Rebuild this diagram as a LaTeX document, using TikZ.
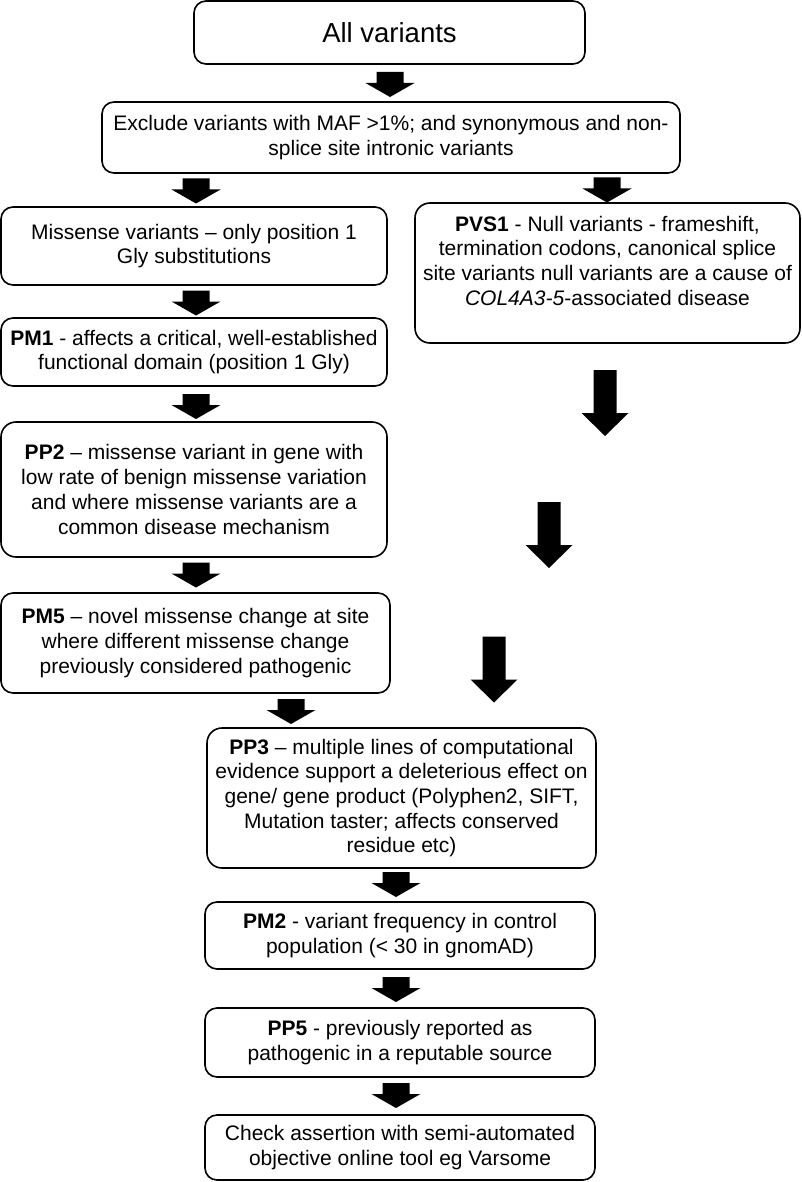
\documentclass[tikz,border=0pt]{standalone}
\usepackage{fontspec}
\setmainfont{Liberation Sans}
\begin{document}
\begin{tikzpicture}[x=1pt,y=-1pt,
  box/.style={draw, line width=1.6pt, rounded corners=12pt, inner sep=0pt, align=center,
    font=\fontsize{21}{24.7}\selectfont},
  sarr/.pic={\fill (-13.5,-12.5) -- (13.5,-12.5) -- (13.5,-1.5) -- (24.5,-1.5) -- (0,12.5) -- (-24.5,-1.5) -- (-13.5,-1.5) -- cycle;},
  barr/.pic={\fill (-11.5,-33) -- (11.5,-33) -- (11.5,10) -- (23.5,10) -- (0,33) -- (-23.5,10) -- (-11.5,10) -- cycle;}
]
\useasboundingbox (0,0) rectangle (801,1182);

\node[box, minimum width=391pt, minimum height=63pt, font=\fontsize{27.5}{32}\selectfont] (all) at (389.5,32.5) {All variants};
\node[box, minimum width=578pt, minimum height=71pt] (excl) at (391,137.5)
  {Exclude variants with MAF >1\%; and synonymous and non-\\splice site intronic variants};
\node[box, minimum width=386pt, minimum height=78pt] (miss) at (194,246)
  {Missense variants – only position 1\\Gly substitutions};
\node[box, minimum width=385pt, minimum height=140pt, rounded corners=15pt] (pvs1) at (607.5,273)
  {\textbf{PVS1} - Null variants - frameshift,\\termination codons, canonical splice\\site variants null variants are a cause of\\\textit{COL4A3-5}-associated disease\\\mbox{}};
\node[box, minimum width=386pt, minimum height=68pt] (pm1) at (194,352)
  {\textbf{PM1} - affects a critical, well-established\\functional domain (position 1 Gly)};
\node[box, minimum width=386pt, minimum height=135pt, rounded corners=15pt] (pp2) at (194,489.5)
  {\textbf{PP2} – missense variant in gene with\\low rate of benign missense variation\\and where missense variants are a\\common disease mechanism};
\node[box, minimum width=389pt, minimum height=100pt] (pm5) at (195.5,643)
  {\textbf{PM5} – novel missense change at site\\where different missense change\\previously considered pathogenic};
\node[box, minimum width=389pt, minimum height=140pt, rounded corners=15pt] (pp3) at (401.5,798)
  {\textbf{PP3} – multiple lines of computational\\evidence support a deleterious effect on\\gene/ gene product (Polyphen2, SIFT,\\Mutation taster; affects conserved\\residue etc)};
\node[box, minimum width=390pt, minimum height=67pt] (pm2) at (400,935.5)
  {\textbf{PM2} - variant frequency in control\\population (< 30 in gnomAD)};
\node[box, minimum width=390pt, minimum height=69pt] (pp5) at (400,1042.5)
  {\textbf{PP5} - previously reported as\\pathogenic in a reputable source};
\node[box, minimum width=390pt, minimum height=65pt] (check) at (400,1147.5)
  {Check assertion with semi-automated\\objective online tool eg Varsome};

\pic (a1) at (390,84.5) {sarr};
\pic (a2) at (196,191) {sarr};
\pic (a3) at (607,190) {sarr};
\pic (a4) at (196,303) {sarr};
\pic (a5) at (196,406.5) {sarr};
\pic (a6) at (196,575) {sarr};
\pic (a7) at (291,711.5) {sarr};
\pic (a8) at (396,884.5) {sarr};
\pic (a9) at (396,989.5) {sarr};
\pic (a10) at (396,1095.5) {sarr};
\pic (b1) at (605,403) {barr};
\pic (b2) at (549,535) {barr};
\pic (b3) at (494,669.5) {barr};
\end{tikzpicture}
\end{document}
